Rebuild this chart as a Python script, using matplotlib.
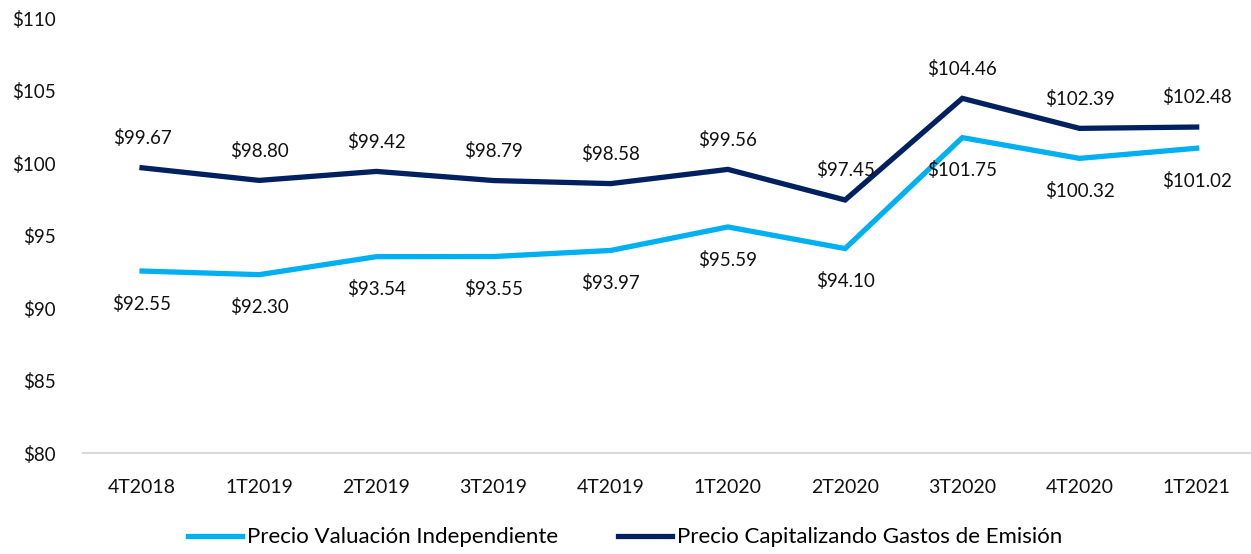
import matplotlib
matplotlib.use("Agg")
import matplotlib.pyplot as plt

categories = ["4T2018", "1T2019", "2T2019", "3T2019", "4T2019", "1T2020", "2T2020", "3T2020", "4T2020", "1T2021"]
precio_valuacion = [92.55, 92.30, 93.54, 93.55, 93.97, 95.59, 94.10, 101.75, 100.32, 101.02]
precio_capitalizando = [99.67, 98.80, 99.42, 98.79, 98.58, 99.56, 97.45, 104.46, 102.39, 102.48]
y_ticks = [80, 85, 90, 95, 100, 105, 110]

light = "#00B0F0"
dark = "#002060"
plt.rcParams['font.family'] = ['Lato', 'DejaVu Sans']

fig = plt.figure(figsize=(12.51, 5.54), dpi=100)
ax = fig.add_axes([0.0667, 0.1823, 0.9367, 0.7852])
x = list(range(len(categories)))
l1, = ax.plot(x, precio_valuacion, color=light, lw=3.8, solid_joinstyle='miter', label="Precio Valuación Independiente")
l2, = ax.plot(x, precio_capitalizando, color=dark, lw=3.8, solid_joinstyle='miter', label="Precio Capitalizando Gastos de Emisión")

fs = 13.5
for xi, v in zip(x, precio_valuacion):
    ax.annotate(f"${v:.2f}", (xi, v), xytext=(0, -17), textcoords="offset points",
                ha="center", va="top", fontsize=fs, color="#111111")
for xi, v in zip(x, precio_capitalizando):
    ax.annotate(f"${v:.2f}", (xi, v), xytext=(0, 15), textcoords="offset points",
                ha="center", va="bottom", fontsize=fs, color="#111111")

ax.set_xlim(-0.5, len(categories) - 0.5)
ax.set_ylim(80, 110)
ax.set_yticks(y_ticks)
ax.set_yticklabels([f"${t}" for t in y_ticks], fontsize=fs, color="#111111")
ax.set_xticks(x)
ax.set_xticklabels(categories, fontsize=14, color="#111111")
ax.tick_params(axis='both', length=0)
ax.tick_params(axis='y', pad=20)
ax.tick_params(axis='x', pad=19)
for s in ["top", "right", "left"]:
    ax.spines[s].set_visible(False)
ax.spines["bottom"].set_color("#D9D9D9")
ax.spines["bottom"].set_linewidth(1.5)

fig.legend(handles=[l1, l2], loc="center", bbox_to_anchor=(0.5, 0.03), ncol=2, frameon=False,
           fontsize=16, handlelength=2.4, handletextpad=0.25, columnspacing=2.7)

fig.savefig("out.png", dpi=100)
